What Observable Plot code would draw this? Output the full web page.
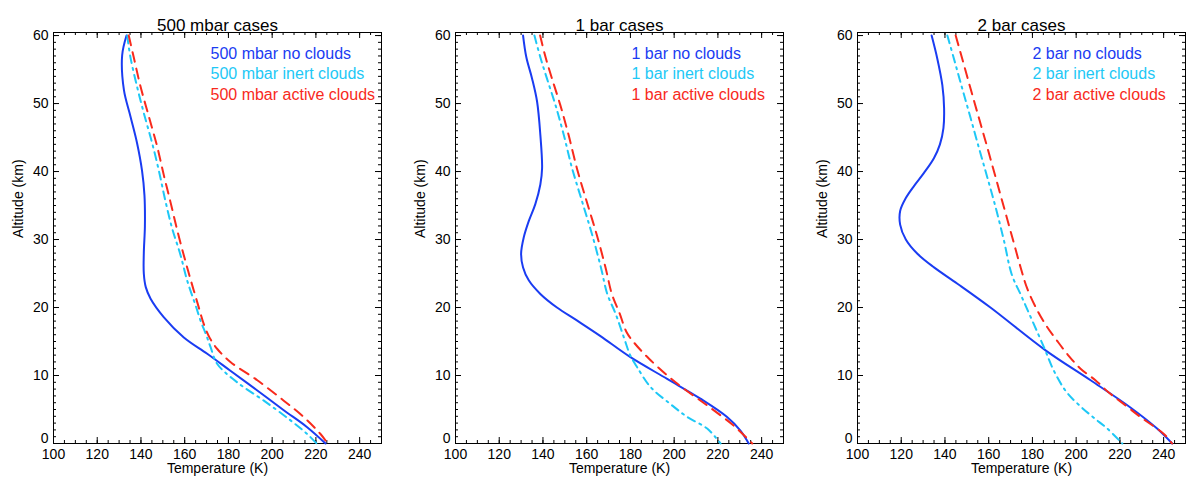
<!DOCTYPE html>
<html><head><meta charset="utf-8">
<script src="https://cdn.jsdelivr.net/npm/d3@7"></script>
<script src="https://cdn.jsdelivr.net/npm/@observablehq/plot@0.6"></script>
<style>
html,body{margin:0;padding:0;background:#fff;overflow:hidden;}
#wrap{position:relative;width:1188px;height:478px;}
.panel{position:absolute;top:0;}
</style></head><body><div id="wrap"></div>
<script>
// ---- data: [temperature (K), altitude (km)] ----
const p1NoClouds = [[133.4,60],[131.4,57.1],[132.2,52],[135.2,48.1],[138.2,44.2],[140.5,40.1],[141.6,36.5],[141.8,32],[141.3,28],[141.3,25],[142.2,23],[144.4,21.3],[150.4,18.6],[159.6,15.6],[170.3,13.2],[180.9,10.7],[193.2,7.8],[205.3,4.9],[216,2.4],[224.4,0]];
const p1Inert = [[133.7,60],[135.2,56.8],[138.2,52.5],[141.3,48.6],[145.1,44.2],[148.2,40.1],[151.3,35.5],[154.3,31.6],[158.1,27.7],[161.1,24],[165.3,20],[167.2,18.1],[169.8,16],[171.8,14.2],[174.9,11.7],[184,9],[196.2,6.3],[208.4,3.4],[216,1.4],[220.3,0]];
const p1Active = [[134.4,60],[136.7,56.8],[139.8,52.5],[143.6,48.1],[147.4,43.7],[150.5,39.4],[153.5,35.5],[156.8,31.1],[160,27.2],[162.8,24],[166,20.5],[168.7,17.6],[171.5,15.5],[174.9,13.9],[180.9,12],[193.2,9.3],[205.3,6.3],[214.4,3.9],[222.1,1.4],[225.4,0]];

const p2NoClouds = [[130.9,60],[132.4,56.8],[135,53.7],[137.3,50.3],[138.8,45.4],[139.6,40.5],[138.8,38.1],[136.5,35.2],[133.5,32.7],[131.2,30.3],[130,27.9],[130.9,25.9],[133.5,24],[138.8,22],[146.4,20],[155.5,18.1],[166.3,15.8],[180,12.7],[196.8,9.5],[212,6.6],[224.2,3.9],[230.3,1.9],[234.1,0]];
const p2Inert = [[136.1,60],[138.8,56.8],[141.8,53.7],[145.7,49.8],[149.5,45.4],[153.3,40.5],[157.8,35.7],[162.4,30.8],[166.5,25.9],[169.4,22],[173.2,19.1],[177,15.6],[180,12.9],[183.1,11.2],[189.2,8.3],[198.3,5.8],[206,3.9],[215.1,2.2],[221.2,0]];
const p2Active = [[138.7,60],[141.2,56.8],[144.1,53.7],[147.9,49.8],[151.7,45.4],[155.5,40.5],[159.9,35.7],[164.5,30.8],[168.6,25.9],[171.5,22],[175.1,19.1],[178.2,16.4],[181.5,14.9],[188.4,12.5],[200.6,9],[215.1,5.6],[227.3,2.6],[235.7,0]];

const p3NoClouds = [[133.9,60],[136.5,56.6],[138.8,52.7],[139.6,49.3],[139.3,46.4],[137.7,44],[135,42],[130.4,39.8],[125.9,37.9],[122.1,36.1],[119.5,34.2],[119.5,32.2],[122.1,30],[127.4,27.9],[135,25.9],[145.7,23.5],[160.8,20],[186,13.7],[206.6,9.3],[224.8,5.3],[237,2.2],[243.9,0]];
const p3Inert = [[141.1,60],[144.1,56.6],[147.9,52.2],[151.7,47.9],[155.5,43.5],[159.4,39.1],[163.2,34.7],[167,29.8],[170.5,24.9],[174.5,22],[178.5,19.1],[185.2,14.2],[189.8,10.7],[195.5,7.6],[201.5,5.6],[208,3.8],[214.2,2.2],[221.1,0]];
const p3Active = [[144.9,60],[147.9,56.6],[151.7,52.2],[155.5,47.9],[159.4,43.5],[163.2,39.1],[167,34.7],[170.8,30.3],[174.6,25.9],[177.6,22.8],[182.2,19.6],[186.8,17.1],[191.3,15.1],[196.6,12.9],[202,11],[208.8,9.3],[214.9,7.5],[222.6,5.6],[229.4,3.9],[240.1,1.4],[243.9,0]];

const panelTitles = ["500 mbar cases", "1 bar cases", "2 bar cases"];
const pressureLabels = ["500 mbar", "1 bar", "2 bar"];
const caseLabels = ["no clouds", "inert clouds", "active clouds"];
const xTickLabels = [100,120,140,160,180,200,220,240];
const yTickLabels = [0,10,20,30,40,50,60];
const xMinorTicks = d3.range(100, 251, 5);
const yMinorTicks = d3.range(0, 61, 1);

// ---- styles / layout ----
const colors = ["#1a3cf2", "#1ec8f6", "#f82a1c"];
const dashes = [null, "8,5,2,5", "10,7"];
const panels = [
  {series:[p1NoClouds,p1Inert,p1Active], left:0, width:396, ml:53, mr:15, legendX:171.8},
  {series:[p2NoClouds,p2Inert,p2Active], left:396, width:396, ml:59, mr:9, legendX:180.5},
  {series:[p3NoClouds,p3Inert,p3Active], left:792, width:396, ml:65, mr:3, legendX:180.0}
];
const legendY = [57.35, 54.3, 51.3];
const H = 478, MT = 32, MB = 35;
const FH = H - MT - MB;
const font = "'Liberation Sans', Arial, Helvetica, sans-serif";

const wrap = document.getElementById("wrap");
panels.forEach((p, k) => {
  const FW = p.width - p.ml - p.mr;
  const marks = [
    // ticks, inward on all four sides
    Plot.tickX(xMinorTicks, {x: d => d, insetTop: FH - 3, stroke: "#000"}),
    Plot.tickX(xMinorTicks, {x: d => d, insetBottom: FH - 3, stroke: "#000"}),
    Plot.tickX(xTickLabels, {x: d => d, insetTop: FH - 6, stroke: "#000"}),
    Plot.tickX(xTickLabels, {x: d => d, insetBottom: FH - 6, stroke: "#000"}),
    Plot.tickY(yMinorTicks, {y: d => d, insetRight: FW - 3, stroke: "#000"}),
    Plot.tickY(yMinorTicks, {y: d => d, insetLeft: FW - 3, stroke: "#000"}),
    Plot.tickY(yTickLabels, {y: d => d, insetRight: FW - 6, stroke: "#000"}),
    Plot.tickY(yTickLabels, {y: d => d, insetLeft: FW - 6, stroke: "#000"}),
    Plot.frame({stroke: "#000", strokeWidth: 1}),
    // tick labels
    Plot.text(xTickLabels, {x: d => d, frameAnchor: "bottom", dy: 15, text: d => String(d), fontSize: 14, fill: "#000"}),
    Plot.text(yTickLabels.filter(d => d > 0), {y: d => d, frameAnchor: "left", dx: -5, textAnchor: "end", text: d => String(d), fontSize: 14, fill: "#000"}),
    Plot.text(yTickLabels.filter(d => d === 0), {y: d => d, frameAnchor: "left", dx: -5, dy: -5, textAnchor: "end", text: d => String(d), fontSize: 14, fill: "#000"}),
    // titles
    Plot.text([panelTitles[k]], {frameAnchor: "top", dy: -14, fontSize: 17, fill: "#000"}),
    Plot.text(["Temperature (K)"], {frameAnchor: "bottom", dy: 29, fontSize: 14, fill: "#000"}),
    Plot.text(["Altitude (km)"], {frameAnchor: "left", dx: -35, rotate: -90, fontSize: 14, fill: "#000"})
  ];
  p.series.forEach((s, i) => {
    marks.push(Plot.line(s, {x: d => d[0], y: d => d[1], stroke: colors[i], strokeWidth: 2,
      strokeDasharray: dashes[i], curve: "catmull-rom"}));
    marks.push(Plot.text([pressureLabels[k] + " " + caseLabels[i]], {x: () => p.legendX, y: () => legendY[i],
      textAnchor: "start", fontSize: 16, fill: colors[i]}));
  });
  const chart = Plot.plot({
    width: p.width, height: H,
    marginTop: MT, marginBottom: MB, marginLeft: p.ml, marginRight: p.mr,
    x: {domain: [100, 250], axis: null},
    y: {domain: [0, 60.45], axis: null},
    style: {fontFamily: font, background: "#fff", overflow: "visible"},
    marks
  });
  const div = document.createElement("div");
  div.className = "panel";
  div.style.left = p.left + "px";
  div.appendChild(chart);
  wrap.appendChild(div);
});
</script>
</body></html>
